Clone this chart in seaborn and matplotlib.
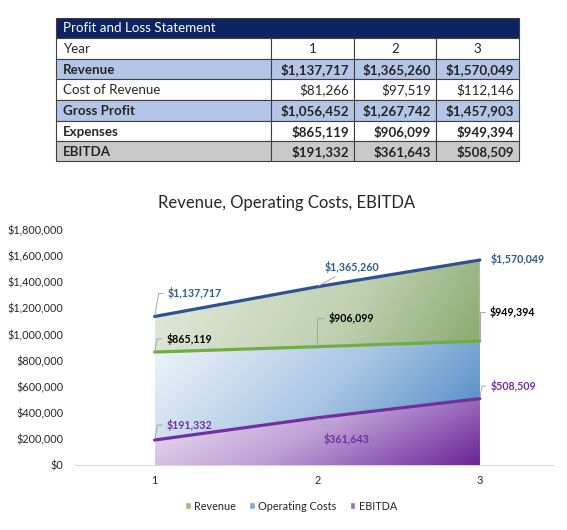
import numpy as np
import matplotlib.pyplot as plt
import seaborn as sns
from matplotlib.colors import LinearSegmentedColormap
from matplotlib.patches import Polygon, Rectangle, Patch

# table data
table_title = 'Profit and Loss Statement'
years = [1, 2, 3]
row_names = ['Revenue', 'Cost of Revenue', 'Gross Profit', 'Expenses', 'EBITDA']
revenue = [1137717, 1365260, 1570049]
cost_of_revenue = [81266, 97519, 112146]
gross_profit = [1056452, 1267742, 1457903]
expenses = [865119, 906099, 949394]
ebitda = [191332, 361643, 508509]

chart_title = 'Revenue, Operating Costs, EBITDA'
series_names = ['Revenue', 'Operating Costs', 'EBITDA']
y_ticks = [0, 200000, 400000, 600000, 800000, 1000000, 1200000, 1400000, 1600000, 1800000]

sns.set_style('white')
plt.rcParams['font.family'] = ['Lato', 'DejaVu Sans']

fig = plt.figure(figsize=(5.67, 5.30), dpi=100)

def money(v):
    return '${:,.0f}'.format(v)

# ---------- table ----------
tax = fig.add_axes([0, 0, 1, 1])
tax.set_xlim(0, 567)
tax.set_ylim(530, 0)
tax.axis('off')

col_x = [56, 271, 354, 436, 519]
row_y = [18, 38, 59, 79, 100, 121, 141, 161]
rows = [revenue, cost_of_revenue, gross_profit, expenses, ebitda]
row_fill = ['#B4C6E7', 'white', '#B4C6E7', 'white', '#C9C9C9']
row_bold = [True, False, True, True, True]
edge = '#404040'
fs_tab = 9.6

tax.add_patch(Rectangle((col_x[0], row_y[0]), col_x[-1] - col_x[0], row_y[1] - row_y[0],
                        facecolor='#0C2461', edgecolor=edge, lw=0.8))
tax.text(col_x[0] + 7, (row_y[0] + row_y[1]) / 2 + 0.5, table_title, color='white',
         fontsize=fs_tab, va='center', ha='left')

# year row
for c in range(4):
    tax.add_patch(Rectangle((col_x[c], row_y[1]), col_x[c + 1] - col_x[c], row_y[2] - row_y[1],
                            facecolor='white', edgecolor=edge, lw=0.8))
tax.text(col_x[0] + 7, (row_y[1] + row_y[2]) / 2 + 0.5, 'Year', fontsize=fs_tab, va='center')
for c, yr in enumerate(years):
    tax.text((col_x[c + 1] + col_x[c + 2]) / 2, (row_y[1] + row_y[2]) / 2 + 0.5, str(yr),
             fontsize=fs_tab, va='center', ha='center')

for r, (name, vals) in enumerate(zip(row_names, rows)):
    y0, y1 = row_y[r + 2], row_y[r + 3]
    w = 'bold' if row_bold[r] else 'normal'
    for c in range(4):
        tax.add_patch(Rectangle((col_x[c], y0), col_x[c + 1] - col_x[c], y1 - y0,
                                facecolor=row_fill[r], edgecolor=edge, lw=0.8))
    tax.text(col_x[0] + 7, (y0 + y1) / 2 + 0.5, name, fontsize=fs_tab, va='center', fontweight=w)
    for c, v in enumerate(vals):
        tax.text(col_x[c + 2] - 5, (y0 + y1) / 2 + 0.5, money(v), fontsize=fs_tab, va='center',
                 ha='right', fontweight=w)

# ---------- chart ----------
ax = fig.add_axes([75 / 567, 1 - 465 / 530, 478 / 567, 235 / 530])

cmaps = [
    LinearSegmentedColormap.from_list('g', ['#E4EBDC', '#BFD0B0', '#6F9852']),
    LinearSegmentedColormap.from_list('b', ['#EFF4FA', '#A9C6E4', '#3E7DBF']),
    LinearSegmentedColormap.from_list('p', ['#F1EAF5', '#BFA0D6', '#6A2398']),
]
line_colors = ['#2F528F', '#70AD47', '#7030A0']
label_colors = ['#2F5B89', '#000000', '#7030A0']
series = [revenue, expenses, ebitda]

gx, gy = np.meshgrid(np.linspace(0, 1, 300), np.linspace(0, 1, 300))
for i, vals in enumerate(series):
    top = max(vals)
    verts = [(years[0], 0)] + list(zip(years, vals)) + [(years[-1], 0)]
    poly = Polygon(verts, closed=True, facecolor='none', edgecolor='none', transform=ax.transData)
    ax.add_patch(poly)
    grad = 0.72 * gx + 0.28 * (1 - gy)
    im = ax.imshow(grad, cmap=cmaps[i], extent=(years[0], years[-1], 0, top), origin='lower',
                   aspect='auto', vmin=0, vmax=1, zorder=1 + i)
    im.set_clip_path(poly)

for i, vals in enumerate(series):
    sns.lineplot(x=years, y=vals, color=line_colors[i], lw=2.3, ax=ax, zorder=5, legend=False)

# data labels: (offset in points, ha, leader style)
label_layout = [
    [((9.4, 16.6), 'left', 'angle80'), ((25, 14), 'center', 'up'), ((8, 0.7), 'left', None)],
    [((8.6, 9.4), 'left', 'angle80'), ((8.3, 20.6), 'left', 'angle90'), ((7.2, 20.9), 'left', 'angle90')],
    [((8.6, 10.8), 'left', 'angle80'), ((21, -15), 'center', 'down'), ((7.9, 9), 'left', 'angle80')],
]
for i, vals in enumerate(series):
    for j, v in enumerate(vals):
        off, ha, lead = label_layout[i][j]
        ap = None
        if lead == 'angle80' or lead == 'angle90':
            ang = 80 if lead == 'angle80' else 90
            ap = dict(arrowstyle='-', color='#A6A6A6', lw=0.7, relpos=(0, 0.5), shrinkA=1, shrinkB=1,
                      connectionstyle='angle,angleA=0,angleB=%d,rad=0' % ang)
        elif lead == 'up':
            ap = dict(arrowstyle='-', color='#A6A6A6', lw=0.7, relpos=(0.3, 0), shrinkA=0, shrinkB=1)
        elif lead == 'down':
            ap = dict(arrowstyle='-', color='#A6A6A6', lw=0.7, relpos=(0.25, 1), shrinkA=0, shrinkB=1)
        ax.annotate(money(v), xy=(years[j], v), xytext=off, textcoords='offset points',
                    ha=ha, va='center', fontsize=7.7, fontweight='bold', color=label_colors[i],
                    arrowprops=ap, zorder=6)

ax.set_xlim(0.51, 3.45)
ax.set_ylim(0, 1800000)
ax.set_xticks(years)
ax.set_yticks(y_ticks)
ax.set_yticklabels([money(t) for t in y_ticks])
ax.tick_params(axis='y', length=0, pad=8.5, labelsize=7.8, labelcolor='#262626')
ax.tick_params(axis='x', length=0, pad=7, labelsize=7.8, labelcolor='#262626')
sns.despine(ax=ax, left=True, top=True, right=True)
ax.spines['bottom'].set_color('#D9D9D9')
ax.spines['bottom'].set_linewidth(0.8)
ax.set_xlabel('')
ax.set_ylabel('')

ax.text((287 - 75) / 478, (465 - 203) / 235, chart_title, transform=ax.transAxes,
        ha='center', va='center', fontsize=12, color='#262626')

handles = [Patch(facecolor=c) for c in ['#9DB98A', '#7FA9D6', '#9D6CC0']]
fig.legend(handles, series_names, loc='center', bbox_to_anchor=(291 / 567, 1 - 506 / 530), ncol=3,
           frameon=False, fontsize=7.8, handlelength=0.55, handleheight=0.55, handletextpad=0.3,
           columnspacing=1.2, labelcolor='#262626')

fig.savefig('out.png', dpi=100)
